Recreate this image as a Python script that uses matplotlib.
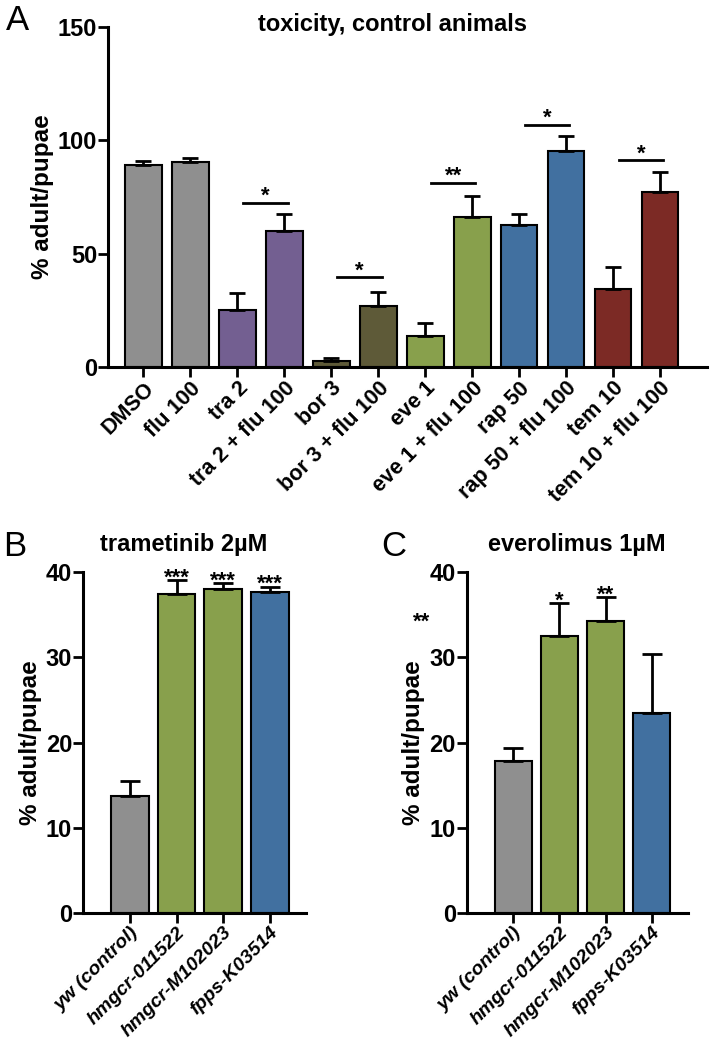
import matplotlib
matplotlib.use('Agg')
import matplotlib.pyplot as plt

plt.rcParams['font.family'] = ['Liberation Sans', 'DejaVu Sans']

# ---- datos panel A ----
cats_a = ['DMSO', 'flu 100', 'tra 2', 'tra 2 + flu 100', 'bor 3', 'bor 3 + flu 100',
          'eve 1', 'eve 1 + flu 100', 'rap 50', 'rap 50 + flu 100', 'tem 10', 'tem 10 + flu 100']
vals_a = [89.3, 90.3, 25.3, 60.0, 2.5, 27.0, 13.6, 66.3, 62.7, 95.3, 34.3, 77.2]
err_a = [1.8, 1.9, 7.3, 7.3, 1.5, 6.2, 5.9, 9.1, 4.9, 6.5, 9.6, 9.0]
col_a = ['#8f8f8f', '#8f8f8f', '#735f91', '#735f91', '#5e5a38', '#5e5a38',
         '#88a04c', '#88a04c', '#4170a0', '#4170a0', '#7c2a25', '#7c2a25']
# comparaciones (indice barra izq, altura linea, estrellas)
sig_a_idx = [2, 4, 6, 8, 10]
sig_a_y = [72.5, 39.5, 81.3, 106.9, 91.2]
sig_a_txt = ['*', '*', '**', '*', '*']

# ---- datos paneles B y C ----
cats_bc = ['yw (control)', 'hmgcr-011522', 'hmgcr-M102023', 'fpps-K03514']
col_bc = ['#8f8f8f', '#88a04c', '#88a04c', '#4170a0']
vals_b = [13.75, 37.4, 38.0, 37.7]
err_b = [1.75, 1.7, 0.7, 0.6]
stars_b = ['', '***', '***', '***']
vals_c = [17.8, 32.5, 34.3, 23.5]
err_c = [1.6, 3.9, 2.8, 6.9]
stars_c = ['', '*', '**', '']

fig = plt.figure(figsize=(7.12, 10.48), dpi=100)

def estilo(ax):
    for s in ['top', 'right']:
        ax.spines[s].set_visible(False)
    for s in ['left', 'bottom']:
        ax.spines[s].set_linewidth(2.2)
    ax.tick_params(width=2, length=7, pad=1)
    ax.tick_params(axis='y', labelsize=17)
    for t in ax.get_yticklabels():
        t.set_fontweight('bold')

# panel A
axA = fig.add_axes([0.152, 0.650, 0.841, 0.324])
x = range(len(cats_a))
axA.bar(x, vals_a, width=0.78, color=col_a, edgecolor='black', linewidth=1.5,
        yerr=[[0] * len(err_a), err_a], error_kw=dict(elinewidth=2, capsize=6, capthick=2))
axA.set_ylim(0, 150)
axA.set_xlim(-0.75, 12.0)
axA.set_yticks([0, 50, 100, 150])
axA.set_xticks(list(x))
axA.set_xticklabels(cats_a, rotation=45, ha='right', rotation_mode='anchor',
                    fontsize=15.5, fontweight='bold')
axA.set_ylabel('% adult/pupae', fontsize=17.5, fontweight='bold', labelpad=3)
estilo(axA)
for i, yy, t in zip(sig_a_idx, sig_a_y, sig_a_txt):
    axA.plot([i + 0.12, i + 1.07], [yy, yy], color='black', lw=2)
    axA.text(i + 0.6, yy + 0.5, t, ha='center', va='baseline', fontsize=16, fontweight='bold')
fig.text(392 / 712, 1 - 25 / 1048, 'toxicity, control animals', fontsize=17,
         fontweight='bold', ha='center', va='center')
fig.text(0.008, 1 - 20 / 1048, 'A', fontsize=25, va='center')

def panel(pos, vals, err, stars, titulo, tx, letra, lx):
    ax = fig.add_axes(pos)
    xx = range(len(cats_bc))
    ax.bar(xx, vals, width=0.81, color=col_bc, edgecolor='black', linewidth=1.5,
           yerr=[[0] * len(err), err], error_kw=dict(elinewidth=2, capsize=7, capthick=2))
    ax.set_ylim(0, 40)
    ax.set_xlim(-1.0, 3.78)
    ax.set_yticks([0, 10, 20, 30, 40])
    ax.set_xticks(list(xx))
    ax.set_xticklabels(cats_bc, rotation=45, ha='right', rotation_mode='anchor',
                       fontsize=14, fontweight='bold', style='italic')
    ax.set_ylabel('% adult/pupae', fontsize=17.5, fontweight='bold', labelpad=3)
    estilo(ax)
    for i, (v, e, s) in enumerate(zip(vals, err, stars)):
        if s:
            ax.text(i, v + e - 0.4, s, ha='center', va='baseline', fontsize=16, fontweight='bold')
    fig.text(tx / 712, 1 - 545 / 1048, titulo, fontsize=17, fontweight='bold',
             ha='center', va='center')
    fig.text(lx, 1 - 547 / 1048, letra, fontsize=25, va='center')
    return ax

axB = panel([0.117, 0.129, 0.313, 0.325], vals_b, err_b, stars_b, 'trametinib 2µM', 184, 'B', 0.004)
axC = panel([0.656, 0.129, 0.310, 0.325], vals_c, err_c, stars_c, 'everolimus 1µM', 577, 'C', 0.536)
# asterisco suelto a la izquierda del eje en C
fig.text(422 / 712, 1 - 628 / 1048, '**', fontsize=16, fontweight='bold', ha='center', va='baseline')

fig.savefig('out.png', dpi=100)
